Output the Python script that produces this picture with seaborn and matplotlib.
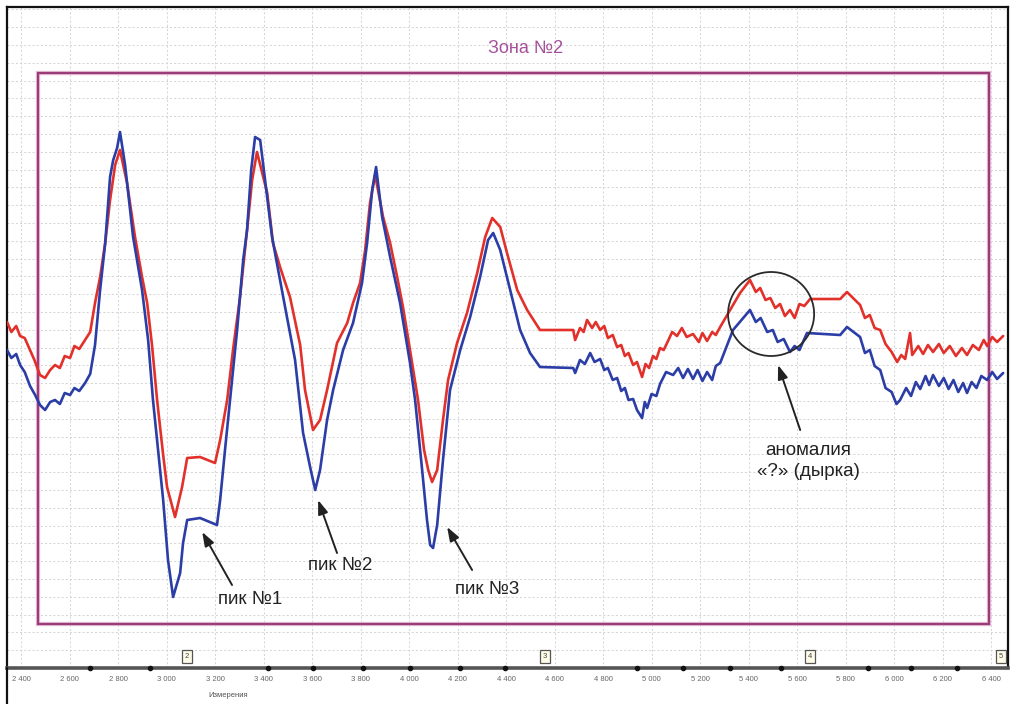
import numpy as np
import pandas as pd
import matplotlib
matplotlib.use("Agg")
import matplotlib.pyplot as plt
from matplotlib.patches import Rectangle, Ellipse
from matplotlib.lines import Line2D
from matplotlib.ticker import FixedLocator, MultipleLocator, FuncFormatter
import matplotlib.transforms as mtransforms
import seaborn as sns

# --- Сигналы по двум каналам (номер измерения -> амплитуда, усл. ед.) ---
red_x = [2342, 2360, 2380, 2396, 2415, 2437, 2455, 2478, 2499, 2520, 2540, 2560, 2580, 2602,
         2620, 2640, 2664, 2685, 2705, 2726, 2747, 2767, 2788, 2808,
         2837, 2870, 2899, 2920, 2940, 2961, 2986, 3002, 3035, 3064, 3085, 3138, 3200, 3221,
         3250, 3274, 3303, 3332, 3353, 3373, 3415, 3439, 3468, 3509, 3551, 3571, 3604, 3633,
         3662, 3703, 3745, 3769, 3798, 3819, 3839, 3860, 3893, 3922, 3951, 3975, 4004, 4037,
         4062, 4079, 4095, 4116, 4140, 4161, 4198, 4239, 4281, 4314, 4343, 4376, 4404, 4446,
         4487, 4540, 4677, 4685, 4705, 4720, 4734, 4755, 4770, 4788, 4805, 4820, 4840, 4858,
         4875, 4890, 4905, 4924, 4940, 4961, 4975, 4990, 5006, 5020, 5035, 5050, 5064, 5085,
         5105, 5125, 5145, 5171, 5195, 5210, 5229, 5250, 5265, 5283, 5324, 5365, 5406, 5430,
         5448, 5470, 5490, 5510, 5530, 5550, 5571, 5590, 5610, 5630, 5654, 5778, 5806, 5860,
         5880, 5900, 5920, 5943, 5965, 5990, 6013, 6030, 6046, 6066, 6075, 6100, 6120, 6140,
         6161, 6185, 6205, 6230, 6255, 6280, 6301, 6325, 6350, 6370, 6384, 6405, 6425, 6450]
red_y = [34.6, 33.6, 34.2, 33.2, 33.0, 31.8, 30.8, 29.3, 29.0, 29.8, 30.3, 30.0, 31.2, 31.0,
         32.2, 31.9, 32.8, 33.6, 36.5, 39.1, 42.5, 46.8, 50.3, 51.8,
         48.5, 43.1, 39.1, 36.5, 32.3, 26.8, 21.3, 18.1, 15.1, 18.1, 21.0, 21.1, 20.5, 22.8,
         26.8, 31.8, 37.1, 43.8, 48.8, 51.6, 47.5, 42.5, 40.1, 37.1, 32.3, 27.8, 23.8, 24.8,
         27.8, 32.5, 34.5, 36.5, 38.5, 41.8, 46.5, 49.3, 45.1, 42.5, 39.1, 36.1, 31.8, 26.8,
         21.8, 19.8, 18.6, 19.8, 24.8, 28.8, 32.5, 35.5, 39.5, 43.1, 45.0, 44.1, 41.5, 37.8,
         35.8, 33.8, 33.8, 32.8, 34.0, 33.6, 34.8, 34.0, 34.6, 33.8, 34.2, 33.0, 33.3, 32.1,
         32.3, 31.2, 31.5, 30.3, 30.6, 29.1, 30.4, 30.0, 31.2, 30.9, 32.0, 31.8, 32.5, 33.6,
         33.2, 34.0, 33.1, 33.4, 32.6, 33.5, 32.7, 33.6, 33.3, 34.1, 35.8, 37.5, 38.8, 37.6,
         38.0, 36.8, 37.0, 36.0, 36.4, 35.2, 35.8, 35.0, 36.4, 36.2, 36.9, 36.9, 37.6, 36.3,
         35.0, 35.3, 34.0, 33.8, 32.4, 31.6, 30.6, 31.3, 30.9, 33.5, 31.3, 32.2, 31.4, 32.3,
         31.6, 32.4, 31.5, 32.2, 31.2, 32.0, 31.3, 32.3, 31.8, 32.8, 32.2, 33.1, 32.6, 33.2]

blue_x = [2342, 2360, 2380, 2396, 2415, 2437, 2458, 2478, 2499, 2520, 2540, 2560, 2580, 2602,
          2620, 2640, 2664, 2685, 2705, 2726, 2747, 2767, 2780, 2796, 2808,
          2829, 2862, 2899, 2924, 2944, 2986, 3006, 3027, 3056, 3068, 3085, 3138, 3208, 3221,
          3241, 3262, 3291, 3316, 3332, 3349, 3365, 3386, 3435, 3481, 3530, 3563, 3592, 3613,
          3633, 3662, 3687, 3728, 3769, 3806, 3827, 3848, 3864, 3889, 3922, 3963, 4004, 4025,
          4054, 4074, 4087, 4099, 4116, 4140, 4169, 4211, 4252, 4293, 4326, 4347, 4376, 4417,
          4458, 4499, 4540, 4677, 4685, 4705, 4725, 4747, 4765, 4788, 4805, 4820, 4840, 4858,
          4875, 4890, 4905, 4924, 4940, 4961, 4972, 4982, 5000, 5020, 5035, 5060, 5089,
          5110, 5130, 5150, 5171, 5190, 5210, 5229, 5250, 5265, 5283, 5336, 5406, 5430, 5450,
          5477, 5500, 5520, 5545, 5571, 5590, 5610, 5641, 5778, 5806, 5860, 5880, 5900, 5920,
          5943, 5965, 5990, 6010, 6025, 6050, 6070, 6090, 6108, 6130, 6145, 6161, 6185, 6205,
          6225, 6245, 6265, 6285, 6301, 6320, 6340, 6360, 6384, 6405, 6425, 6450]
blue_y = [31.8, 31.0, 31.4, 30.3, 29.6, 28.2, 27.3, 26.3, 25.8, 26.6, 26.8, 26.4, 27.5, 27.3,
          28.0, 27.7, 28.5, 29.4, 32.3, 37.8, 42.5, 49.1, 50.8, 52.0, 53.6,
          50.3, 43.1, 37.8, 32.8, 26.8, 16.8, 10.8, 7.1, 9.5, 12.5, 14.8, 15.0, 14.3, 16.8,
          21.8, 26.8, 33.8, 40.8, 43.8, 49.8, 53.1, 52.8, 43.1, 37.1, 30.8, 23.5, 20.1, 17.8,
          19.8, 24.8, 27.8, 31.8, 34.5, 38.5, 42.5, 47.8, 50.1, 45.1, 41.1, 36.5, 30.5, 26.8,
          19.8, 14.8, 12.3, 12.0, 14.3, 20.8, 27.8, 31.8, 35.1, 39.1, 42.8, 43.5, 41.8, 37.8,
          33.8, 31.5, 30.1, 30.0, 29.5, 30.8, 30.4, 31.5, 30.6, 30.9, 29.8, 30.0, 28.8, 29.0,
          27.7, 28.0, 26.8, 26.9, 25.8, 25.0, 26.6, 26.0, 27.4, 27.2, 28.4, 29.6, 29.3,
          30.0, 29.0, 29.9, 28.9, 29.8, 28.7, 29.6, 28.8, 30.2, 30.5, 33.8, 35.8, 34.6, 35.0,
          33.6, 33.8, 32.6, 32.9, 31.6, 32.2, 31.8, 33.5, 33.3, 34.1, 33.1, 31.5, 31.8, 30.2,
          29.8, 28.0, 27.6, 26.4, 26.8, 28.0, 27.2, 28.6, 27.9, 29.2, 28.3, 29.3, 28.2, 29.0,
          27.9, 28.8, 27.6, 28.5, 27.5, 28.6, 28.0, 29.2, 28.8, 29.6, 28.9, 29.5]

# Метки на оси измерений и номера участков
tick_values = list(range(2400, 6401, 200))
event_marks = [2685, 2932, 3419, 3604, 3810, 4004, 4210, 4396, 4940, 5130, 5324, 5534,
               5893, 6070, 6260]
section_pos = [3085, 4561, 5654, 6441]
section_labels = ["2", "3", "4", "5"]

# Зона и подписи
zone_title = "Зона №2"
zone_box = (2470, 4.4, 6392, 59.5)          # x0, y0, x1, y1
peak_labels = ["пик №1", "пик №2", "пик №3"]
peak_text_xy = [(3344, 6.8), (3716, 10.3), (4322, 7.8)]
peak_tip_xy = [(3147, 13.6), (3625, 16.8), (4157, 14.1)]
peak_tail_xy = [(3270, 8.3), (3703, 11.5), (4260, 9.8)]
anomaly_label = "аномалия\n«?» (дырка)"
anomaly_text_xy = (5646, 20.7)
anomaly_tip_xy = (5522, 30.3)
anomaly_tail_xy = (5613, 23.8)
anomaly_center = (5493, 35.4)
anomaly_size = (355, 8.4)

W, H = 1020, 704
sns.set_theme(style="white")
plt.rcParams["font.family"] = ["Liberation Sans", "DejaVu Sans"]

fig = plt.figure(figsize=(W / 100, H / 100), dpi=100)
ax = fig.add_axes([7 / W, 36 / H, (1008 - 7) / W, (668 - 7) / H])
ax.set_facecolor("white")

red_df = pd.DataFrame({"Измерения": red_x, "Амплитуда": red_y})
blue_df = pd.DataFrame({"Измерения": blue_x, "Амплитуда": blue_y})
sns.lineplot(data=red_df, x="Измерения", y="Амплитуда", ax=ax, color="#E2302A",
             linewidth=1.9, estimator=None, sort=False, zorder=3)
sns.lineplot(data=blue_df, x="Измерения", y="Амплитуда", ax=ax, color="#2B3DA6",
             linewidth=1.9, estimator=None, sort=False, zorder=4)

ax.set_xlim(2342, 6470)
ax.set_ylim(0, 66.1)

# Сетка
ax.xaxis.set_major_locator(FixedLocator(tick_values))
ax.yaxis.set_major_locator(MultipleLocator(1.78))
ax.grid(True, which="major", color="#d6d6d6", linestyle=(0, (2, 2)), linewidth=0.75)
ax.set_axisbelow(True)

ax.xaxis.set_major_formatter(FuncFormatter(lambda v, p: f"{int(v):,}".replace(",", " ")))
ax.tick_params(axis="x", length=0, pad=6, labelsize=5.5, labelcolor="#666666")
ax.tick_params(axis="y", length=0, labelleft=False)
ax.set_ylabel("")
ax.set_xlabel("Измерения", fontsize=5.5, color="#555555")
ax.xaxis.set_label_coords((228 - 7) / 1001, -0.036)

for side in ("left", "top", "right"):
    ax.spines[side].set_color("#111111")
    ax.spines[side].set_linewidth(1.6)
ax.spines["bottom"].set_color("#555555")
ax.spines["bottom"].set_linewidth(2.6)
fig.add_artist(Line2D([7 / W, 7 / W], [0, 36 / H], color="#111111", lw=1.6,
                      transform=fig.transFigure))

# Отметки событий на оси
ax.plot(event_marks, [0] * len(event_marks), "o", color="#111111", markersize=3,
        clip_on=False, zorder=6)

# Номера участков
trans = mtransforms.blended_transform_factory(ax.transData, ax.transAxes)
for xp, lab in zip(section_pos, section_labels):
    ax.text(xp, 0.012, lab, transform=trans, ha="center", va="bottom", fontsize=5.5,
            color="#444444", zorder=7,
            bbox=dict(boxstyle="square,pad=0.35", fc="#FFFDE8", ec="#555555", lw=0.9))

# Зона
x0, y0, x1, y1 = zone_box
ax.add_patch(Rectangle((x0, y0), x1 - x0, y1 - y0, fill=False, ec="#EDCBE0", lw=3.2,
                       zorder=2))
ax.add_patch(Rectangle((x0, y0), x1 - x0, y1 - y0, fill=False, ec="#9C3B7A", lw=1.7,
                       zorder=2))
ax.text((x0 + x1) / 2 + 48, 61.9, zone_title, ha="center", va="center", fontsize=13,
        color="#A5509A")

# Подписи пиков
arrow_kw = dict(arrowstyle="-|>,head_length=0.7,head_width=0.25", color="#222222",
                lw=1.4, shrinkA=0, shrinkB=0)
for lab, txy, tip, tail in zip(peak_labels, peak_text_xy, peak_tip_xy, peak_tail_xy):
    ax.text(*txy, lab, ha="center", va="center", fontsize=13.5, color="#222222", zorder=8)
    ax.annotate("", xy=tip, xytext=tail, arrowprops=arrow_kw, zorder=8)

# Аномалия
ax.add_patch(Ellipse(anomaly_center, anomaly_size[0], anomaly_size[1], fill=False,
                     ec="#2a2a2a", lw=1.3, zorder=5))
ax.text(*anomaly_text_xy, anomaly_label, ha="center", va="center", fontsize=13.5,
        color="#222222", linespacing=1.3, zorder=8)
ax.annotate("", xy=anomaly_tip_xy, xytext=anomaly_tail_xy, arrowprops=arrow_kw, zorder=8)

fig.savefig("out.png", dpi=100, facecolor="white")
